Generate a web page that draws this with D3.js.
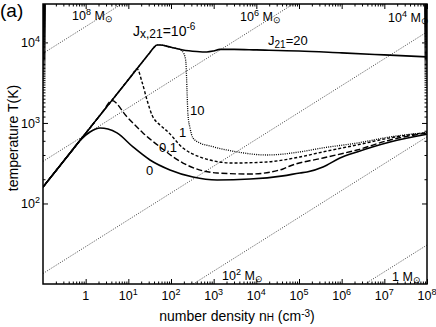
<!DOCTYPE html>
<html>
<head>
<meta charset="utf-8">
<script src="https://cdn.jsdelivr.net/npm/d3@7"></script>
<style>
  body { margin: 0; background: #fff; }
  text { font-family: "Liberation Sans", Arial, sans-serif; fill: #000; }
</style>
</head>
<body>
<svg width="436" height="327"></svg>
<script>
// number density n_H (cm^-3) and temperature T (K)
const nJ20 = [0.1, 1, 10, 30, 40, 47, 55, 100, 190, 400, 690, 1000, 1400, 3000, 1e4, 1e5, 1e6, 1e7, 1e8];
const tJ20 = [160, 743, 3450, 7160, 8690, 9300, 9300, 8700, 8070, 7730, 7620, 7830, 8190, 8190, 8070, 7830, 7410, 7000, 6610];

const nJ10 = [0.1, 1, 10, 30, 40, 47, 55, 100, 131, 181, 213, 224, 237, 250, 279, 327, 478, 820, 3520, 17800, 1.05e5, 3.6e5, 2.3e6, 1.36e7, 1e8];
const tJ10 = [160, 743, 3450, 7160, 8690, 9300, 9300, 8700, 8450, 7830, 6600, 5560, 2570, 1260, 867, 652, 563, 518, 437, 400, 437, 490, 563, 670, 760];

const nJ1 = [0.1, 1, 5, 12, 16, 20.9, 27.4, 35.8, 55, 80.5, 191, 478, 2840, 17800, 1.05e5, 3.65e5, 2.29e6, 1.36e7, 1e8];
const tJ1 = [160, 743, 2170, 3890, 4700, 3230, 1930, 1256, 944, 796, 489, 378, 318, 328, 378, 437, 533, 652, 760];

const nJ01 = [0.1, 1, 2.5, 4.1, 9.3, 22, 55, 191, 1200, 7100, 42200, 61500, 3.65e5, 2.29e6, 1.36e7, 1e8];
const tJ01 = [160, 743, 1370, 1900, 1190, 752, 504, 318, 239, 232, 268, 292, 367, 462, 615, 750];

const nJ0 = [0.1, 0.5, 0.74, 1.26, 2.17, 3.33, 5.42, 12.85, 32.2, 94.6, 327, 1200, 7100, 42200, 1.05e5, 1.54e5, 3.65e5, 9.1e5, 2.29e6, 1.36e7, 1e8];
const tJ0 = [160, 468, 608, 773, 867, 841, 752, 504, 347, 261, 213, 196, 201, 220, 239, 246, 284, 367, 437, 581, 725];

// Jeans mass lines: end points at n = 0.1 and n = 1e8
const jeansN = [0.1, 1e8];
const jeansMass = ['8', '6', '4', '2', ''];
const jeansT = [[7300, 7.3e6], [333, 3.33e5], [13.5, 13500], [0.67, 673], [0.0305, 30.5]];

const xTicks = [1, 10, 1e2, 1e3, 1e4, 1e5, 1e6, 1e7, 1e8];
const yTicks = [1e2, 1e3, 1e4];

const svg = d3.select('svg');
const plotL = 43, plotR = 427, plotT = 4, plotB = 284;

const x = d3.scaleLog().domain([0.1, 1e8]).range([plotL, plotR]);
const y = d3.scaleLog().domain([10, 3e4]).range([plotB, plotT]);

// superscript / subscript text helper
function rich(px, py, parts, anchor) {
    const t = svg.append('text')
        .attr('x', px).attr('y', py)
        .attr('text-anchor', anchor || 'start');
    let cur = 0;
    parts.forEach(([s, size, off]) => {
        t.append('tspan')
            .attr('dy', off - cur)
            .attr('font-size', size)
            .text(s);
        cur = off;
    });
    return t;
}

svg.append('clipPath').attr('id', 'plot')
    .append('rect')
    .attr('x', plotL).attr('y', plotT)
    .attr('width', plotR - plotL).attr('height', plotB - plotT);

const plot = svg.append('g').attr('clip-path', 'url(#plot)');

// Jeans mass lines
jeansT.forEach(ts => {
    plot.append('line')
        .attr('x1', x(jeansN[0])).attr('y1', y(ts[0]))
        .attr('x2', x(jeansN[1])).attr('y2', y(ts[1]))
        .attr('stroke', '#111')
        .attr('stroke-width', 0.8)
        .attr('stroke-dasharray', '1,1.5');
});

const line = d3.line()
    .x(d => x(d[0]))
    .y(d => y(d[1]))
    .curve(d3.curveMonotoneX);

const curves = [
    { n: nJ0, t: tJ0, dash: null, w: 1.6 },
    { n: nJ01, t: tJ01, dash: '6,2.5', w: 1.4 },
    { n: nJ1, t: tJ1, dash: '3,2', w: 1.4 },
    { n: nJ20, t: tJ20, dash: null, w: 1.6 },
    { n: nJ10, t: tJ10, dash: '1,1.2', w: 1.3 }
];

curves.forEach(c => {
    plot.append('path')
        .datum(c.n.map((v, i) => [v, c.t[i]]))
        .attr('d', line)
        .attr('fill', 'none')
        .attr('stroke', '#000')
        .attr('stroke-width', c.w)
        .attr('stroke-dasharray', c.dash);
});

// axes with inward ticks, minor ticks too
const minorX = x.ticks(100).filter(v => !xTicks.includes(v) && v !== 0.1);
const minorY = y.ticks(100).filter(v => !yTicks.includes(v) && v !== 10);

function addAxis(axisFn, scale, major, minor, transform) {
    svg.append('g').attr('transform', transform)
        .call(axisFn(scale).tickValues(major).tickSize(-5).tickFormat(''))
        .call(g => g.select('.domain').remove());
    svg.append('g').attr('transform', transform)
        .call(axisFn(scale).tickValues(minor).tickSize(-2.5).tickFormat(''))
        .call(g => g.select('.domain').remove());
}
addAxis(d3.axisBottom, x, xTicks, minorX, `translate(0,${plotB})`);
addAxis(d3.axisTop, x, xTicks, minorX, `translate(0,${plotT})`);
addAxis(d3.axisLeft, y, yTicks, minorY, `translate(${plotL},0)`);
addAxis(d3.axisRight, y, yTicks, minorY, `translate(${plotR},0)`);
svg.selectAll('.tick line').attr('stroke', '#000').attr('stroke-width', 1);

svg.append('rect')
    .attr('x', plotL).attr('y', plotT)
    .attr('width', plotR - plotL).attr('height', plotB - plotT)
    .attr('fill', 'none')
    .attr('stroke', '#000')
    .attr('stroke-width', 1.5);

// tick labels
xTicks.forEach(v => {
    const k = Math.round(Math.log10(v));
    if (k === 0) rich(x(v), 300, [['1', 12.5, 0]], 'middle');
    else rich(x(v), 300, [['10', 12.5, 0], [String(k), 9, -5]], 'middle');
});
yTicks.forEach(v => {
    const k = Math.round(Math.log10(v));
    rich(40, y(v) + 5, [['10', 12.5, 0], [String(k), 9, -5]], 'end');
});

// axis titles
rich(237, 321, [['number density  n', 14, 0], ['H', 10, 0], [' (cm', 14, 0], ['-3', 10, -4], [')', 14, 0]], 'middle');
svg.append('text')
    .attr('transform', 'translate(18,138) rotate(-90)')
    .attr('text-anchor', 'middle')
    .attr('font-size', 14)
    .text('temperature  T(K)');

rich(0, 17, [['(a)', 19, 0]]);

// Jeans mass labels
const jeansLabelPos = [[72, 20], [240, 21], [388, 22], [222, 280], [392, 281]];
jeansMass.forEach((m, i) => {
    const [px, py] = jeansLabelPos[i];
    const parts = m ? [['10', 12.5, 0], [m, 9, -5], [' M', 12.5, 0], ['\u2299', 9, 2]]
                    : [['1 M', 12.5, 0], ['\u2299', 9, 2]];
    rich(px, py, parts);
});

// curve labels
rich(133, 36, [['J', 14, 0], ['x,21', 12, 2], ['=10', 14, 0], ['-6', 10, -6]]);
rich(268, 45, [['J', 13, 0], ['21', 10, 3], ['=20', 13, 0]]);
rich(190, 115, [['10', 13, 0]]);
rich(179, 137, [['1', 13, 0]]);
rich(159, 152, [['0.1', 13, 0]]);
rich(146, 175, [['0', 13, 0]]);
</script>
</body>
</html>
